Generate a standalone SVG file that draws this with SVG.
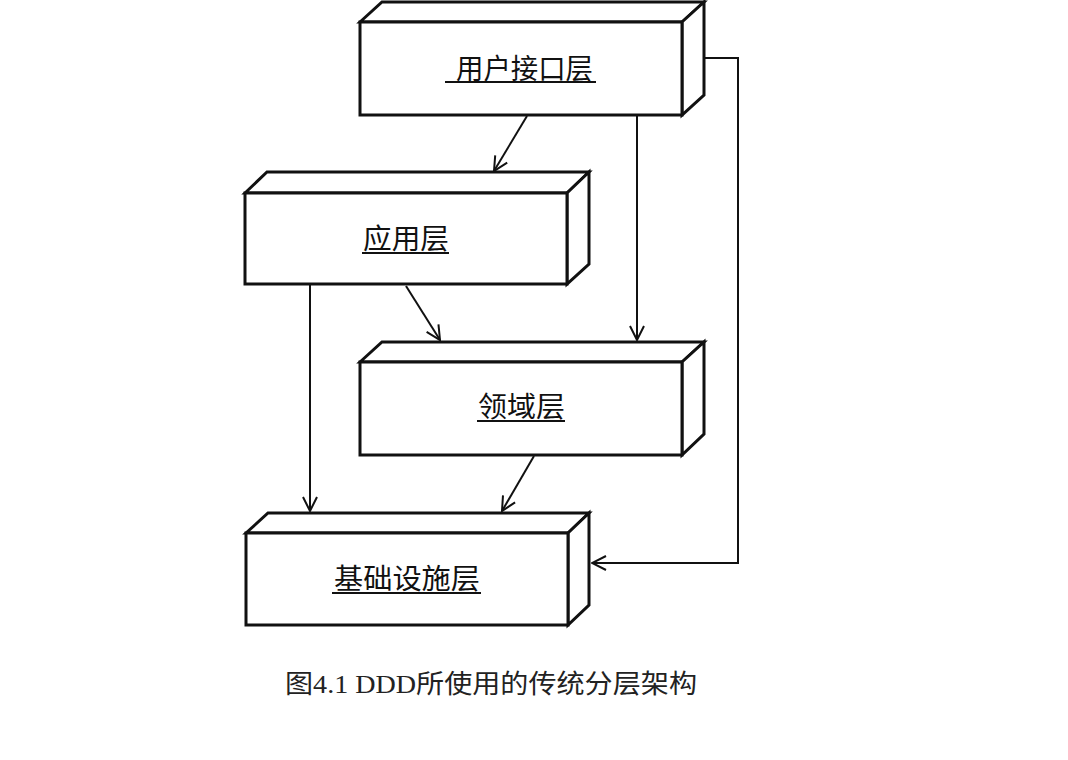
<svg xmlns="http://www.w3.org/2000/svg" width="1068" height="760" viewBox="0 0 1068 760">
<style>
.box{fill:#fff;stroke:#111;stroke-width:3;stroke-linejoin:miter}
.lbl{font-family:"Noto Sans CJK SC","Liberation Sans",sans-serif;font-size:28px;fill:#111;text-anchor:start}
.ul{stroke:#111;stroke-width:2}
.con{fill:none;stroke:#111;stroke-width:2}
.cap{font-family:"Liberation Serif","Noto Sans CJK SC",serif;font-size:26px;fill:#222}
</style>
<defs>
<marker id="arr" markerUnits="userSpaceOnUse" viewBox="0 0 16 16" refX="15" refY="8" markerWidth="16" markerHeight="16" orient="auto">
<path d="M1,1 L15,8 L1,15" fill="none" stroke="#111" stroke-width="2"/>
</marker>
</defs>
<rect width="1068" height="760" fill="#fff"/>
<g id="connectors">
<line class="con" x1="527" y1="116" x2="494" y2="171" marker-end="url(#arr)"/>
<line class="con" x1="637" y1="116" x2="637" y2="340" marker-end="url(#arr)"/>
<polyline class="con" points="704,58 738,58 738,563 592,563" marker-end="url(#arr)"/>
<line class="con" x1="310" y1="285" x2="310" y2="511" marker-end="url(#arr)"/>
<line class="con" x1="406" y1="286" x2="440" y2="340" marker-end="url(#arr)"/>
<line class="con" x1="534" y1="456" x2="502" y2="511" marker-end="url(#arr)"/>
</g>
<g id="node-ui">
<path class="box" d="M360,22 L382,2 L704,2 L682,22 Z"/>
<path class="box" d="M682,22 L704,2 L704,95 L682,115 Z"/>
<rect class="box" x="360" y="22" width="322" height="93"/>
<text class="lbl" x="456" y="79" textLength="137" lengthAdjust="spacingAndGlyphs">用户接口层</text>
<line class="ul" x1="445" y1="82" x2="596" y2="82"/>
</g>
<g id="node-app">
<path class="box" d="M245,193 L267,172 L589,172 L567,193 Z"/>
<path class="box" d="M567,193 L589,172 L589,264 L567,284 Z"/>
<rect class="box" x="245" y="193" width="322" height="91"/>
<text class="lbl" x="363" y="249" textLength="86" lengthAdjust="spacingAndGlyphs">应用层</text>
<line class="ul" x1="362" y1="253" x2="449" y2="253"/>
</g>
<g id="node-domain">
<path class="box" d="M360,362 L382,342 L704,342 L682,362 Z"/>
<path class="box" d="M682,362 L704,342 L704,434 L682,455 Z"/>
<rect class="box" x="360" y="362" width="322" height="93"/>
<text class="lbl" x="478" y="417" textLength="87" lengthAdjust="spacingAndGlyphs">领域层</text>
<line class="ul" x1="477" y1="421" x2="565" y2="421"/>
</g>
<g id="node-infra">
<path class="box" d="M246,533 L268,513 L589,513 L568,533 Z"/>
<path class="box" d="M568,533 L589,513 L589,605 L568,625 Z"/>
<rect class="box" x="246" y="533" width="322" height="92"/>
<text class="lbl" x="334" y="589" textLength="146" lengthAdjust="spacingAndGlyphs">基础设施层</text>
<line class="ul" x1="332" y1="593" x2="481" y2="593"/>
</g>
<text class="cap" x="285" y="693" textLength="412" lengthAdjust="spacingAndGlyphs">图4.1 DDD所使用的传统分层架构</text>
</svg>
